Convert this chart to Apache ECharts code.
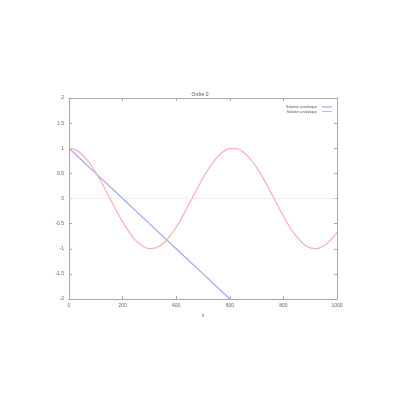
<!DOCTYPE html>
<html><head><meta charset="utf-8">
<script src="https://cdn.jsdelivr.net/npm/echarts@6/dist/echarts.min.js"></script>
<style>html,body{margin:0;padding:0;background:#fff}#c{width:400px;height:400px}</style>
</head><body><div id="c"></div>
<script>
const titleText = "Ordre 0";
const seriesNames = ["Solution numérique", "Solution analytique"];
const seriesColors = ["#a4a4f6", "#f6b0b0"];
const xNumeric = [0, 100, 200, 300, 400, 500, 600];
const yNumeric = [1, 0.5, 0, -0.5, -1, -1.5, -2];
const xAnalytic = [0,25,50,75,100,125,150,175,200,225,250,275,300,325,350,375,400,425,450,475,500,525,550,575,600,625,650,675,700,725,750,775,800,825,850,875,900,925,950,975,1000];
const yAnalytic = [1.000,0.967,0.871,0.718,0.518,0.284,0.031,-0.224,-0.464,-0.673,-0.839,-0.950,-0.998,-0.981,-0.901,-0.761,-0.572,-0.346,-0.092,0.163,0.409,0.627,0.804,0.929,0.992,0.991,0.925,0.798,0.619,0.400,0.153,-0.103,-0.352,-0.578,-0.766,-0.904,-0.982,-0.997,-0.947,-0.833,-0.668];
const xTicks = [0, 200, 400, 600, 800, 1000];
const yTicks = [-2, -1.5, -1, -0.5, 0, 0.5, 1, 1.5, 2];

const chart = echarts.init(document.getElementById('c'), null, {renderer: 'canvas'});
const axisCol = '#a8a8a8';
const lab = {fontSize: 5, color: '#666', fontFamily: 'Liberation Sans'};
chart.setOption({
  animation: false,
  backgroundColor: '#fff',
  color: seriesColors,
  title: {text: titleText, left: 'center', top: 87, textStyle: {fontSize: 5, fontWeight: 'normal', color: '#555', fontFamily: 'Liberation Sans'}},
  legend: {
    data: seriesNames.map((n, i) => ({name: n, itemStyle: {color: seriesColors[i], borderWidth: 0}, lineStyle: {color: seriesColors[i], width: 1.2}})),
    orient: 'vertical', right: 63, top: 100, align: 'right',
    itemWidth: 10, itemHeight: 4, itemGap: 0.5, icon: 'path://M0,1.4L10,1.4L10,2.6L0,2.6Z',
    textStyle: {fontSize: 3.6, color: '#555', fontFamily: 'Liberation Sans', padding: [0, 0, 0, 0]}
  },
  grid: {left: 69, right: 63, top: 98, bottom: 101},
  xAxis: [{
    type: 'value', min: xTicks[0], max: xTicks[xTicks.length - 1], interval: 200,
    name: 'x', nameLocation: 'middle', nameGap: 12, nameTextStyle: lab,
    axisLine: {show: true, onZero: false, lineStyle: {color: axisCol, width: 1}},
    axisTick: {show: true, inside: true, length: 3, lineStyle: {color: axisCol}},
    axisLabel: Object.assign({margin: 4, formatter: v => String(v)}, lab),
    splitLine: {show: false}
  }, {
    type: 'value', position: 'top', min: 0, max: 1000, interval: 200,
    axisLine: {show: true, onZero: false, lineStyle: {color: axisCol, width: 1}},
    axisTick: {show: true, inside: true, length: 3, lineStyle: {color: axisCol}},
    axisLabel: {show: false}, splitLine: {show: false}
  }],
  yAxis: [{
    type: 'value', min: yTicks[0], max: yTicks[yTicks.length - 1], interval: 0.5,
    axisLine: {show: true, onZero: false, lineStyle: {color: axisCol, width: 1}},
    axisTick: {show: true, inside: true, length: 3, lineStyle: {color: axisCol}},
    axisLabel: Object.assign({margin: 5, formatter: v => String(v)}, lab),
    splitLine: {show: false}
  }, {
    type: 'value', position: 'right', min: -2, max: 2, interval: 0.5,
    axisLine: {show: true, onZero: false, lineStyle: {color: axisCol, width: 1}},
    axisTick: {show: true, inside: true, length: 3, lineStyle: {color: axisCol}},
    axisLabel: {show: false}, splitLine: {show: false}
  }],
  series: [{
    name: seriesNames[0], type: 'line', showSymbol: false, symbol: 'none',
    data: xNumeric.map((x, i) => [x, yNumeric[i]]),
    lineStyle: {color: seriesColors[0], width: 1.2}, itemStyle: {color: seriesColors[0]},
    markLine: {silent: true, symbol: 'none', label: {show: false},
      lineStyle: {color: '#e0e0e0', type: 'dotted', width: 1}, data: [{yAxis: 0}]}
  }, {
    name: seriesNames[1], type: 'line', showSymbol: false, symbol: 'none', smooth: 0.3,
    data: xAnalytic.map((x, i) => [x, yAnalytic[i]]),
    lineStyle: {color: seriesColors[1], width: 1.2}, itemStyle: {color: seriesColors[1]}
  }]
});
</script></body></html>
